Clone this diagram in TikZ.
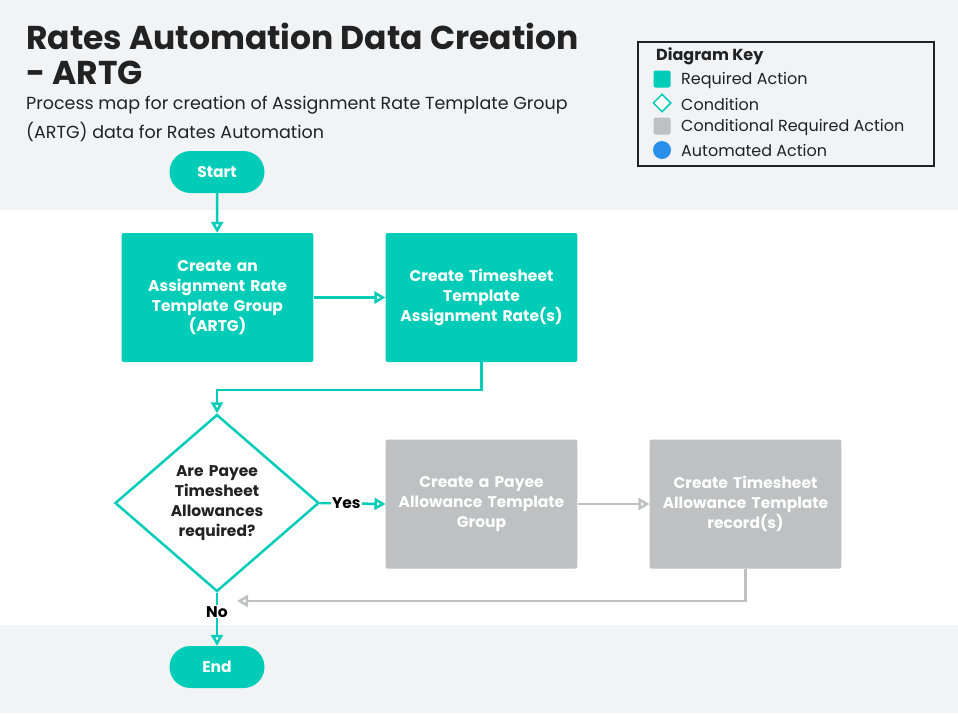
\documentclass[tikz,border=0pt]{standalone}
\usepackage{fontspec}
\setmainfont{Poppins}
\usetikzlibrary{shapes.geometric,arrows.meta}
\definecolor{teal}{HTML}{00CCB8}
\definecolor{bg}{HTML}{F2F3F5}
\definecolor{gbox}{HTML}{BFC0C2}
\definecolor{blu}{HTML}{2A8FEA}
\definecolor{txt}{HTML}{222222}
\begin{document}
\begin{tikzpicture}[x=1pt,y=-1pt,
  box/.style={draw=none,fill=teal,rounded corners=2pt,minimum width=189pt,minimum height=129pt,text width=185pt,align=center,text=white,font=\bfseries\fontsize{15.5}{20}\selectfont},
  gbox/.style={box,fill=gbox},
  pill/.style={fill=teal,rounded corners=21pt,minimum width=95pt,minimum height=42pt,text=white,font=\bfseries\fontsize{15.5}{18}\selectfont},
  arr/.style={draw=teal,line width=2.5pt,-{Triangle[open,fill=white,length=11pt,width=12pt]}},
  garr/.style={draw=gbox,line width=2.5pt,-{Triangle[open,fill=white,length=11pt,width=12pt]}},
  lab/.style={font=\bfseries\fontsize{15.5}{18}\selectfont,text=black},
  key/.style={font=\fontsize{16}{18}\selectfont,text=txt,anchor=west}]
\useasboundingbox (0,0) rectangle (958,713);
\fill[bg] (0,0) rectangle (958,210);
\fill[white] (0,210) rectangle (958,625);
\fill[bg] (0,625) rectangle (958,713);
\node[anchor=west,font=\bfseries\fontsize{33}{38}\selectfont,text=txt,inner sep=0] (t1) at (26,36) {Rates Automation Data Creation};
\node[anchor=west,font=\bfseries\fontsize{33}{38}\selectfont,text=txt,inner sep=0] (t2) at (26,73) {- ARTG};
\node[anchor=west,font=\fontsize{17.5}{20}\selectfont,text=txt,inner sep=0] (s1) at (26,105) {Process map for creation of Assignment Rate Template Group};
\node[anchor=west,font=\fontsize{17.5}{20}\selectfont,text=txt,inner sep=0] (s2) at (26,132) {(ARTG) data for Rates Automation};
% key
\draw[line width=2.5pt,draw=txt] (638,42) rectangle (934,166);
\node[anchor=west,font=\bfseries\fontsize{16}{18}\selectfont,text=txt,inner sep=0] (kt) at (656,56) {Diagram Key};
\node[fill=teal,rounded corners=2pt,minimum size=17pt,inner sep=0] (k1) at (662,79) {};
\node[draw=teal,line width=1.5pt,diamond,fill=white,minimum size=18pt,inner sep=0] (k2) at (662,103) {};
\node[fill=gbox,rounded corners=2pt,minimum size=17pt,inner sep=0] (k3) at (662,126) {};
\node[fill=blu,circle,minimum size=18pt,inner sep=0] (k4) at (662,150) {};
\node[key,inner sep=0] at (681,80) {Required Action};
\node[key,inner sep=0] at (681,104) {Condition};
\node[key,inner sep=0] at (681,127) {Conditional Required Action};
\node[key,inner sep=0] at (681,150) {Automated Action};
% flow
\node[pill] (start) at (217,172) {Start};
\node[box] (b1) at (217.5,297.5) {Create an\\Assignment Rate\\Template Group\\(ARTG)};
\node[box] (b2) at (481.5,297.5) {Create Timesheet\\Template\\Assignment Rate(s)};
\node[diamond,draw=teal,line width=2.5pt,fill=white,aspect=1.15,minimum width=204pt,minimum height=177pt,inner sep=0,text width=110pt,align=center,font=\bfseries\fontsize{15.5}{20}\selectfont,text=txt] (d) at (217,503) {Are Payee\\Timesheet\\Allowances\\required?};
\node[gbox] (b3) at (481.5,504) {Create a Payee\\Allowance Template\\Group};
\node[gbox] (b4) at (745.5,504) {Create Timesheet\\Allowance Template\\record(s)};
\node[pill] (end) at (217,667) {End};
\coordinate (m) at (237,601);
\draw[arr] (start) -- (b1);
\draw[arr] (b1) -- (b2);
\draw[arr] (b2.south) |- (217,390) -- (d.north);
\draw[arr] (d.east) -- node[lab,pos=0.4,fill=white,inner sep=1pt]{Yes} (b3.west);
\draw[garr] (b3) -- (b4);
\draw[garr] (b4.south) |- (m);
\draw[arr] (d.south) -- node[lab,pos=0.36,fill=white,inner sep=1pt]{No} (end.north);
\end{tikzpicture}
\end{document}
